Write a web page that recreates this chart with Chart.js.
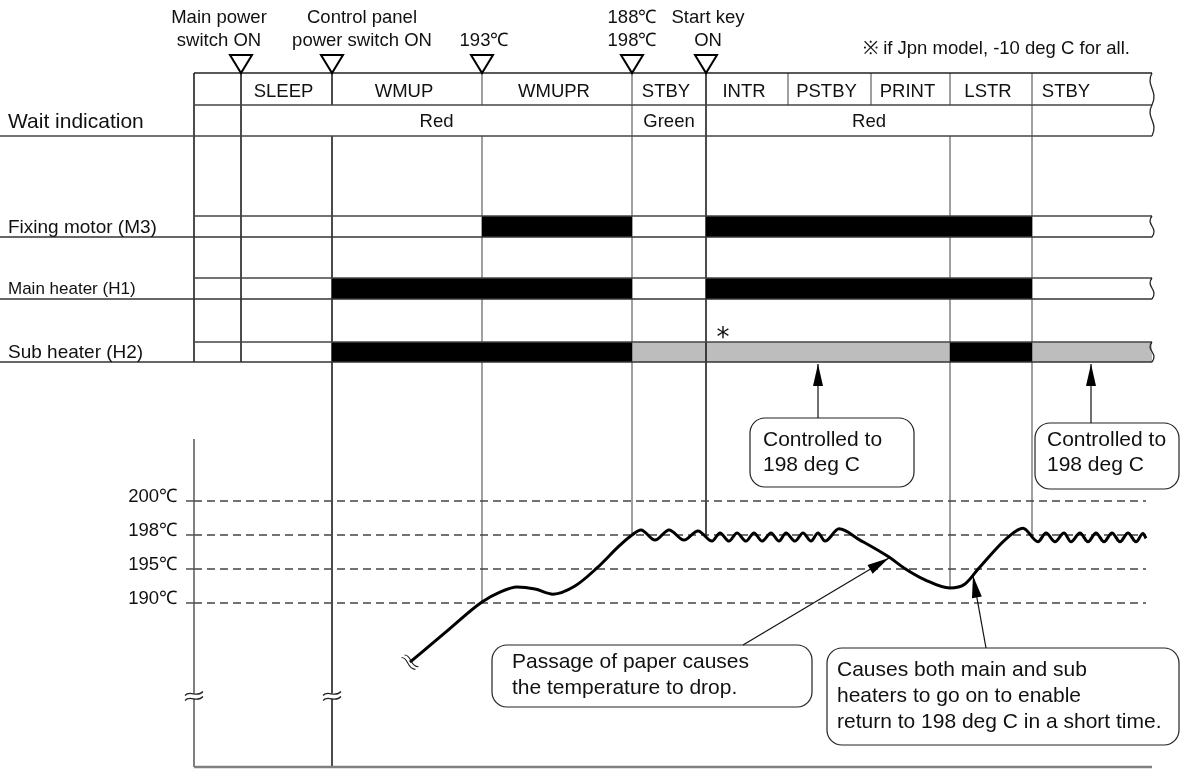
<!DOCTYPE html>
<html>
<head>
<meta charset="utf-8">
<script src="https://cdn.jsdelivr.net/npm/chart.js@4/dist/chart.umd.min.js"></script>
<style>
html, body { margin: 0; padding: 0; background: #fff; }
#wrap { width: 1180px; height: 769px; position: relative; }
</style>
</head>
<body>
<div id="wrap"><canvas id="timingChart"></canvas></div>
<script>
// time axis in arbitrary units, 0..118
const phaseNames = ['', 'SLEEP', 'WMUP', 'WMUPR', 'STBY', 'INTR', 'PSTBY', 'PRINT', 'LSTR', 'STBY'];
const phaseEdges = [19.4, 24.1, 33.2, 48.2, 63.2, 70.6, 78.8, 87.1, 95.0, 103.2, 115.2];

const eventTimes = [24.1, 33.2, 48.2, 63.2, 70.6];
const eventLabels = [['Main power', 'switch ON'], ['Control panel', 'power switch ON'], ['', '193℃'], ['188℃', '198℃'], ['Start key', 'ON']];

const waitFrom = [24.1, 63.2, 70.6];
const waitTo = [63.2, 70.6, 103.2];
const waitText = ['Red', 'Green', 'Red'];

const signalLabels = ['Fixing motor (M3)', 'Main heater (H1)', 'Sub heater (H2)'];
const motorOn = [[48.2, 63.2], [70.6, 103.2]];
const mainHeaterOn = [[33.2, 63.2], [70.6, 103.2]];
const subHeaterOn = [[33.2, 63.2], [95.0, 103.2]];
const subHeaterCtrl = [[63.2, 95.0], [103.2, 115.2]];
const signalOn = [motorOn, mainHeaterOn, subHeaterOn];
const signalCtrl = [[], [], subHeaterCtrl];

// temperature: schematic levels, 190/195/198/200 deg C equally spaced
const tempTickLabels = ['190℃', '195℃', '198℃', '200℃'];
const tempTickLevels = [0, 1, 2, 3];
const tempTime = [41.0, 44.6, 48.2, 50.0, 51.7, 53.5, 55.3, 57.5, 59.7, 62.0, 63.2, 64.1,
  65.5, 66.9, 68.4, 69.8,
  71.2, 72.0, 72.9, 73.7, 74.6, 75.4, 76.2, 77.1, 77.9, 78.6, 79.5, 80.3, 81.1, 81.8, 82.5,
  83.9, 86.0, 88.9, 90.4, 92.5, 95.0, 96.5, 97.9, 100.7, 102.3,
  103.8, 104.6, 105.5, 106.4, 107.1, 108.0, 108.8, 109.6, 110.4, 111.2, 112.0, 112.8, 113.6, 114.3, 114.6];
const tempLevel = [-1.74, -0.85, 0.03, 0.32, 0.47, 0.41, 0.26, 0.50, 1.03, 1.70, 2.00, 2.15,
  1.85, 2.15, 1.85, 2.12,
  1.82, 2.06, 1.82, 2.06, 1.82, 2.06, 1.82, 2.06, 1.82, 2.06, 1.82, 2.06, 1.82, 2.06, 1.82,
  2.18, 1.85, 1.35, 1.03, 0.68, 0.44, 0.56, 1.03, 1.91, 2.20,
  1.80, 2.06, 1.80, 2.06, 1.80, 2.06, 1.80, 2.06, 1.80, 2.06, 1.80, 2.06, 1.80, 2.04, 1.90];

// layout (pixels)
const FONT = '"Liberation Sans", Arial, Helvetica, sans-serif';
const TOP = 73, STATE_BOT = 105, WAIT_BOT = 136;
const rowTop = [216, 278, 342];
const rowBot = [237, 299, 362];
const rowFont = [19, 17, 19];
const PLOT_TOP = 439, PLOT_BOT = 767;
const blackEdges = [19.4, 24.1, 33.2, 70.6];
const eventLabelDx = [-2.2, 3.0, 0.2, 0, 0.2];

const callouts = [
  { box: [750, 418, 164, 69], lines: ['Controlled to', '198 deg C'], tx: 763, ty: [440, 465], from: [818, 418], t: 81.8, on: 'bar' },
  { box: [1035, 423, 144, 66], lines: ['Controlled to', '198 deg C'], tx: 1047, ty: [440, 465], from: [1091, 423], t: 109.1, on: 'bar' },
  { box: [492, 645, 320, 62], lines: ['Passage of paper causes', 'the temperature to drop.'], tx: 512, ty: [662, 688], from: [743, 645], t: 88.9, on: 'curve' },
  { box: [827, 648, 352, 97], lines: ['Causes both main and sub', 'heaters to go on to enable', 'return to 198 deg C in a short time.'], tx: 837, ty: [670, 696, 722], from: [986, 648], t: 97.3, on: 'curve' }
];

function levelAt(t) {
  if (t < tempTime[0] || t > tempTime[tempTime.length - 1]) return null;
  for (let i = 1; i < tempTime.length; i++) {
    if (t <= tempTime[i]) {
      const k = (t - tempTime[i - 1]) / (tempTime[i] - tempTime[i - 1]);
      return tempLevel[i - 1] + k * (tempLevel[i] - tempLevel[i - 1]);
    }
  }
  return null;
}

function line(ctx, x1, y1, x2, y2, color, w) {
  ctx.strokeStyle = color;
  ctx.lineWidth = w;
  ctx.beginPath();
  ctx.moveTo(x1, y1);
  ctx.lineTo(x2, y2);
  ctx.stroke();
}

function label(ctx, s, x, y, size, align) {
  ctx.font = size + 'px ' + FONT;
  ctx.fillStyle = '#111';
  ctx.textAlign = align || 'center';
  ctx.textBaseline = 'middle';
  ctx.fillText(s, x, y);
}

function squiggle(ctx, x, top, bot) {
  const h = bot - top;
  ctx.fillStyle = '#fff';
  ctx.fillRect(x + 1, top - 1, 12, h + 2);
  ctx.strokeStyle = '#222';
  ctx.lineWidth = 1.3;
  ctx.beginPath();
  ctx.moveTo(x, top);
  ctx.bezierCurveTo(x - 7, top + h * 0.4, x + 7, top + h * 0.55, x, bot);
  ctx.stroke();
}

function breakMark(ctx, x, y) {
  ctx.fillStyle = '#fff';
  ctx.fillRect(x - 2, y - 2.5, 4, 5);
  ctx.strokeStyle = '#222';
  ctx.lineWidth = 1.2;
  [-2.5, 2.5].forEach(dy => {
    ctx.beginPath();
    ctx.moveTo(x - 9, y + dy + 2);
    ctx.bezierCurveTo(x - 4, y + dy - 4, x + 3, y + dy + 5, x + 9, y + dy - 2);
    ctx.stroke();
  });
}

function arrowTo(ctx, fx, fy, tx, ty) {
  line(ctx, fx, fy, tx, ty, '#111', 1.2);
  const a = Math.atan2(ty - fy, tx - fx);
  const len = 22, half = 5;
  ctx.fillStyle = '#000';
  ctx.beginPath();
  ctx.moveTo(tx, ty);
  ctx.lineTo(tx - len * Math.cos(a) + half * Math.sin(a), ty - len * Math.sin(a) - half * Math.cos(a));
  ctx.lineTo(tx - len * Math.cos(a) - half * Math.sin(a), ty - len * Math.sin(a) + half * Math.cos(a));
  ctx.closePath();
  ctx.fill();
}

const diagramPlugin = {
  id: 'diagram',
  beforeDatasetsDraw(chart) {
    const ctx = chart.ctx;
    const X = t => chart.scales.x.getPixelForValue(t);
    const Y = v => chart.scales.yT.getPixelForValue(v);
    const x0 = X(phaseEdges[0]);
    const xEnd = X(phaseEdges[phaseEdges.length - 1]);
    const edgeColor = t => blackEdges.includes(t) ? '#111' : '#808080';
    ctx.save();
    ctx.fillStyle = '#fff';
    ctx.fillRect(0, 0, chart.width, chart.height);

    // controlled (grey) bars go under the rules
    ctx.fillStyle = '#bdbdbd';
    signalCtrl.forEach((ivs, r) => ivs.forEach(([a, b]) => ctx.fillRect(X(a), rowTop[r], X(b) - X(a), rowBot[r] - rowTop[r])));

    // vertical rules: state row
    phaseEdges.slice(0, -1).forEach(t => line(ctx, X(t), TOP, X(t), STATE_BOT, edgeColor(t), 1.5));
    // wait row
    const waitEdges = [phaseEdges[0], ...new Set([...waitFrom, ...waitTo])];
    waitEdges.forEach(t => line(ctx, X(t), STATE_BOT, X(t), WAIT_BOT, edgeColor(t), 1.5));
    // signal rows
    [phaseEdges[0], eventTimes[0]].forEach(t => line(ctx, X(t), WAIT_BOT, X(t), rowBot[2], edgeColor(t), 1.5));
    const sigEdges = new Set();
    signalOn.concat(signalCtrl).forEach(ivs => ivs.forEach(([a, b]) => { sigEdges.add(a); sigEdges.add(b); }));
    sigEdges.delete(phaseEdges[phaseEdges.length - 1]);
    sigEdges.forEach(t => {
      const lv = levelAt(t);
      const yEnd = lv === null ? PLOT_BOT : Y(lv);
      line(ctx, X(t), WAIT_BOT, X(t), yEnd, edgeColor(t), 1.5);
    });

    // on (black) bars
    ctx.fillStyle = '#000';
    signalOn.forEach((ivs, r) => ivs.forEach(([a, b]) => ctx.fillRect(X(a), rowTop[r], X(b) - X(a), rowBot[r] - rowTop[r])));

    // horizontal rules
    line(ctx, x0, TOP, xEnd, TOP, '#222', 1.3);
    line(ctx, x0, STATE_BOT, xEnd, STATE_BOT, '#444', 1.3);
    line(ctx, 0, WAIT_BOT, xEnd, WAIT_BOT, '#444', 1.3);
    rowTop.forEach((y, r) => {
      line(ctx, x0, y, xEnd, y, '#444', 1.3);
      line(ctx, 0, rowBot[r], xEnd, rowBot[r], '#333', 1.3);
    });

    // right-hand breaks
    squiggle(ctx, xEnd, TOP, STATE_BOT);
    squiggle(ctx, xEnd, STATE_BOT, WAIT_BOT);
    rowTop.forEach((y, r) => squiggle(ctx, xEnd, y, rowBot[r]));

    // row labels
    label(ctx, 'Wait indication', 8, 122, 21, 'left');
    signalLabels.forEach((s, r) => label(ctx, s, 8, (rowTop[r] + rowBot[r]) / 2 + 1, rowFont[r], 'left'));

    // phase names (last phase is open-ended)
    const lastPhase = phaseNames.length - 1;
    phaseNames.forEach((s, i) => {
      if (!s) return;
      const a = phaseEdges[i];
      const b = i === lastPhase ? a + 7.4 : phaseEdges[i + 1];
      label(ctx, s, X((a + b) / 2) - 3, 92, 18.5);
    });
    waitText.forEach((s, i) => label(ctx, s, X((waitFrom[i] + waitTo[i]) / 2), 122, 18.5));

    // event markers
    eventTimes.forEach((t, i) => {
      const x = X(t);
      ctx.fillStyle = '#fff';
      ctx.strokeStyle = '#000';
      ctx.lineWidth = 2;
      ctx.beginPath();
      ctx.moveTo(x - 11, 55);
      ctx.lineTo(x + 11, 55);
      ctx.lineTo(x, TOP);
      ctx.closePath();
      ctx.fill();
      ctx.stroke();
      const lx = X(t + eventLabelDx[i]);
      if (eventLabels[i][0]) label(ctx, eventLabels[i][0], lx, 18, 18.5);
      label(ctx, eventLabels[i][1], lx, 41, 18.5);
    });
    label(ctx, '※ if Jpn model, -10 deg C for all.', 863, 49, 18.5, 'left');

    // asterisk on sub heater
    ctx.font = '26px "DejaVu Sans", sans-serif';
    ctx.textAlign = 'center';
    ctx.textBaseline = 'alphabetic';
    ctx.fillStyle = '#111';
    ctx.fillText('*', X(subHeaterCtrl[0][0] + 9.1), 346);

    // temperature grid and ticks
    tempTickLevels.forEach((lv, i) => {
      const y = Y(lv);
      line(ctx, x0 - 8, y, x0, y, '#333', 1.3);
      ctx.setLineDash([8, 5]);
      line(ctx, x0, y, X(tempTime[tempTime.length - 1]), y, '#444', 1.3);
      ctx.setLineDash([]);
      label(ctx, tempTickLabels[i], x0 - 17, y - 4, 18.5, 'right');
    });
    line(ctx, x0, PLOT_TOP, x0, PLOT_BOT, '#555', 1.5);
    line(ctx, x0, PLOT_BOT, xEnd, PLOT_BOT, '#808080', 2.5);
    breakMark(ctx, x0, 696);
    breakMark(ctx, X(eventTimes[1]), 696);

    // callouts
    callouts.forEach(c => {
      const [bx, by, bw, bh] = c.box;
      ctx.fillStyle = '#fff';
      ctx.strokeStyle = '#222';
      ctx.lineWidth = 1.2;
      ctx.beginPath();
      ctx.roundRect(bx, by, bw, bh, 15);
      ctx.fill();
      ctx.stroke();
      c.lines.forEach((s, k) => label(ctx, s, c.tx, c.ty[k], 21, 'left'));
      const tx = X(c.t);
      const ty = c.on === 'bar' ? rowBot[2] + 2 : Y(levelAt(c.t)) + 1;
      arrowTo(ctx, c.from[0], c.from[1], tx, ty);
    });
    ctx.restore();
  },
  afterDatasetsDraw(chart) {
    const ctx = chart.ctx;
    const X = t => chart.scales.x.getPixelForValue(t);
    const Y = v => chart.scales.yT.getPixelForValue(v);
    const px = X(tempTime[0]), py = Y(tempLevel[0]);
    const a = Math.atan2(Y(tempLevel[1]) - py, X(tempTime[1]) - px) + Math.PI / 2;
    ctx.save();
    ctx.translate(px, py);
    ctx.rotate(a);
    ctx.strokeStyle = '#222';
    ctx.lineWidth = 1.1;
    [-2, 2].forEach(d => {
      ctx.beginPath();
      ctx.moveTo(-9, d + 1.5);
      ctx.bezierCurveTo(-4, d - 4, 3, d + 5, 9, d - 1.5);
      ctx.stroke();
    });
    ctx.restore();
  }
};

const ctx = document.getElementById('timingChart').getContext('2d');
const chart = new Chart(ctx, {
  type: 'line',
  data: {
    datasets: [{
      data: tempTime.map((t, i) => ({ x: t, y: tempLevel[i] })),
      borderColor: '#000',
      borderWidth: 3,
      pointRadius: 0,
      cubicInterpolationMode: 'monotone',
      xAxisID: 'x',
      yAxisID: 'yT'
    }]
  },
  options: {
    responsive: true,
    maintainAspectRatio: false,
    animation: false,
    events: [],
    layout: { padding: 0 },
    plugins: { legend: { display: false }, tooltip: { enabled: false } },
    scales: {
      x: { type: 'linear', display: false, min: 0, max: 118 },
      yT: { type: 'linear', display: false, min: -4.883, max: 17.735 }
    }
  },
  plugins: [diagramPlugin]
});
</script>
</body>
</html>
